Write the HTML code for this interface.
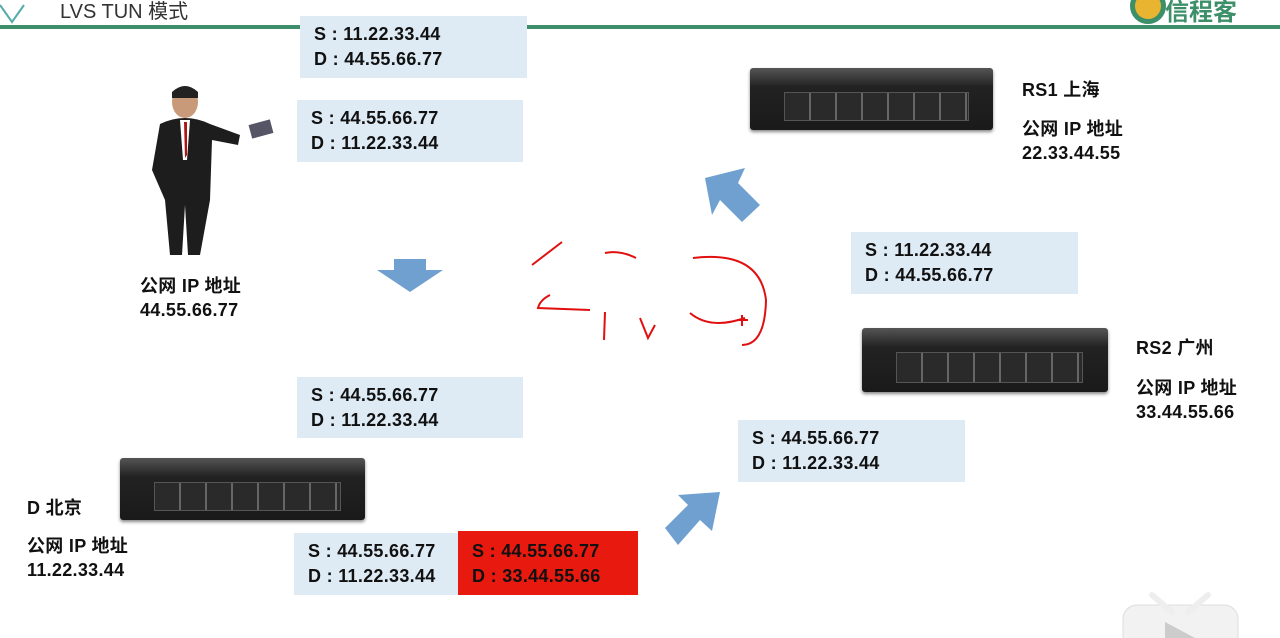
<!DOCTYPE html>
<html><head><meta charset="utf-8"><style>
body{margin:0;width:1280px;height:638px;background:#fff;position:relative;overflow:hidden;font-family:"Liberation Sans","Noto Sans CJK SC",sans-serif;}
.a{position:absolute}
.box{position:absolute;background:#deebf5;font-weight:bold;font-size:18px;letter-spacing:0.3px;color:#111;line-height:25px;padding:6px 0 0 14px;box-sizing:border-box}
.red{background:#e8190f}
.lbl{position:absolute;font-weight:bold;font-size:18px;letter-spacing:0.3px;color:#111;line-height:24px}
.srv{position:absolute;background:linear-gradient(#555,#222 30%,#1a1a1a);border-radius:3px;box-shadow:0 2px 3px #888}
.srv::after{content:"";position:absolute;left:14%;right:10%;top:38%;bottom:14%;background:repeating-linear-gradient(90deg,#2a2a2a 0 24px,#666 24px 26px);border:1px solid #555}
</style></head><body>
<div class="a" style="left:0;top:25px;width:1280px;height:4px;background:#3d8f6a"></div>
<div class="a" style="left:60px;top:0;font-size:20px;line-height:24px;color:#333">LVS TUN 模式</div>
<svg class="a" style="left:0;top:0" width="40" height="28"><path d="M0 5 L12 22 L24 5" stroke="#5aa" stroke-width="2" fill="none"/></svg>
<div class="a" style="left:1130px;top:-12px;width:26px;height:26px;border-radius:50%;border:5px solid #3d8f6a;background:#e9b530"></div>
<div class="a" style="left:1165px;top:-8px;font-size:24px;color:#3d8f6a;font-weight:bold">信程客</div>

<div class="box" style="left:300px;top:16px;width:227px;height:62px">S : 11.22.33.44<br>D : 44.55.66.77</div>
<div class="box" style="left:297px;top:100px;width:226px;height:62px">S : 44.55.66.77<br>D : 11.22.33.44</div>
<div class="box" style="left:851px;top:232px;width:227px;height:62px">S : 11.22.33.44<br>D : 44.55.66.77</div>
<div class="box" style="left:297px;top:377px;width:226px;height:61px">S : 44.55.66.77<br>D : 11.22.33.44</div>
<div class="box" style="left:738px;top:420px;width:227px;height:62px">S : 44.55.66.77<br>D : 11.22.33.44</div>
<div class="box" style="left:294px;top:533px;width:164px;height:62px">S : 44.55.66.77<br>D : 11.22.33.44</div>
<div class="box red" style="left:458px;top:531px;width:180px;height:64px;padding-top:8px">S : 44.55.66.77<br>D : 33.44.55.66</div>

<div class="srv" style="left:750px;top:68px;width:243px;height:62px"></div>
<div class="srv" style="left:862px;top:328px;width:246px;height:64px"></div>
<div class="srv" style="left:120px;top:458px;width:245px;height:62px"></div>

<div class="lbl" style="left:1022px;top:78px">RS1 上海</div>
<div class="lbl" style="left:1022px;top:117px">公网 IP 地址<br>22.33.44.55</div>
<div class="lbl" style="left:1136px;top:336px">RS2 广州</div>
<div class="lbl" style="left:1136px;top:376px">公网 IP 地址<br>33.44.55.66</div>
<div class="lbl" style="left:27px;top:496px">D 北京</div>
<div class="lbl" style="left:27px;top:534px">公网 IP 地址<br>11.22.33.44</div>
<div class="lbl" style="left:140px;top:274px">公网 IP 地址<br>44.55.66.77</div>

<svg class="a" style="left:0;top:0" width="1280" height="638">
<polygon points="394,259 426,259 426,270 443,270 410,292 377,270 394,270" fill="#6fa0cf"/>
<polygon points="705,178 745,168 738,183 760,205 742,222 720,200 712,215" fill="#6fa0cf"/>
<polygon points="720,492 712,531 700,520 678,545 665,528 688,505 678,495" fill="#6fa0cf"/>
<ellipse cx="185" cy="102" rx="13" ry="16" fill="#c99a7a"/>
<path d="M172 92 Q185 80 198 92 L198 98 L172 98Z" fill="#222"/>
<path d="M160 124 Q185 112 210 124 L240 135 L238 145 L212 140 L210 200 L200 255 L188 255 L185 205 L182 255 L170 255 L165 200 L152 170 Z" fill="#1d1d1d"/>
<path d="M180 120 L190 120 L187 160 L183 160Z" fill="#fff"/>
<path d="M184 122 L187 122 L187 155 L185 158Z" fill="#b01515"/>
<rect x="250" y="122" width="22" height="14" fill="#556" transform="rotate(-15 261 129)"/>
<g stroke="#e01010" stroke-width="2" fill="none">
<path d="M562 242 Q545 255 532 265"/>
<path d="M550 295 Q540 300 538 308 L590 310"/>
<path d="M605 253 Q620 250 636 258"/>
<path d="M605 312 L604 340"/>
<path d="M640 318 L648 338 L655 325"/>
<path d="M693 258 Q760 250 766 300 Q765 345 742 345"/>
<path d="M690 313 Q710 330 745 318"/>
<path d="M737 320 L748 320 M742 315 L742 326"/>
</g>
<g fill="#f2f2f2" stroke="#ddd">
<rect x="1123" y="605" width="115" height="60" rx="14"/>
</g>
<path d="M1152 595 L1172 612 M1208 595 L1188 612" stroke="#eee" stroke-width="6" stroke-linecap="round"/>
<polygon points="1165,622 1195,638 1165,638" fill="#ccc"/>
</svg>
</body></html>
